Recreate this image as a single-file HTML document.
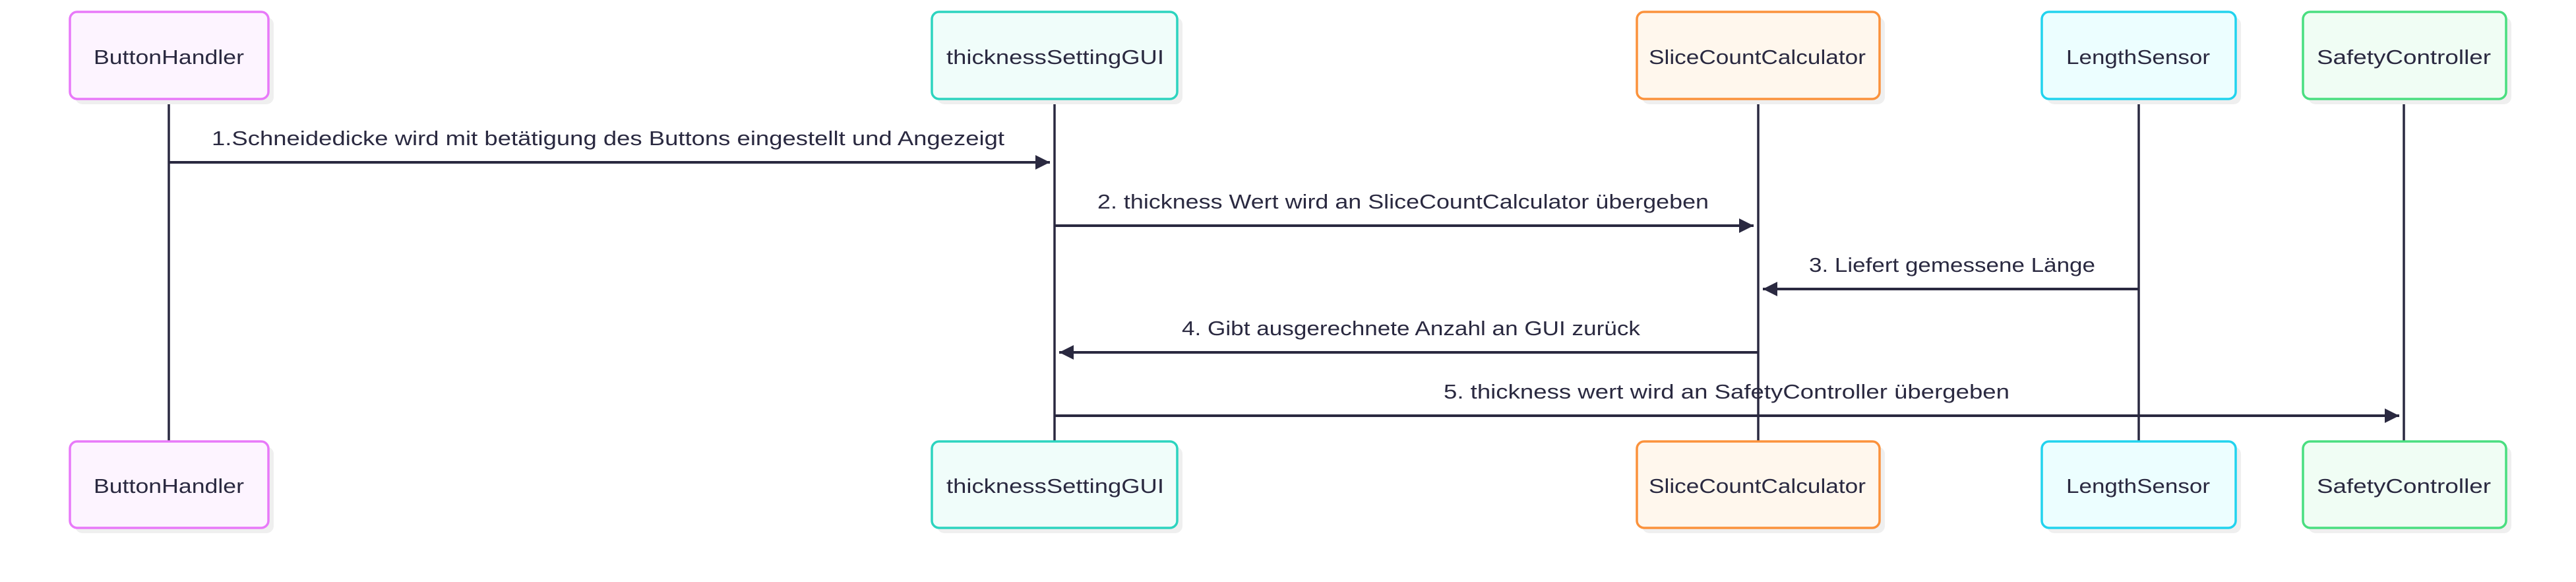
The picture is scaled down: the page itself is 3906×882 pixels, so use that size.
<!DOCTYPE html>
<html><head><meta charset="utf-8"><style>
html,body{margin:0;padding:0;background:#fff;}
svg{display:block;}
text{font-family:"Liberation Sans","DejaVu Sans",sans-serif;font-size:31px;fill:#2a2940;}
</style></head><body>
<svg width="3906" height="882" viewBox="0 0 3906 882" xmlns="http://www.w3.org/2000/svg">
<defs>
<marker id="ah" markerWidth="22" markerHeight="22" refX="22" refY="11" orient="auto" markerUnits="userSpaceOnUse">
<path d="M0,0 L22,11 L0,22 Z" fill="#2a2940"/>
</marker>
</defs>
<!-- lifelines -->
<g stroke="#2a2940" stroke-width="3.5">
<line x1="256" y1="150" x2="256" y2="669"/>
<line x1="1599" y1="150" x2="1599" y2="669"/>
<line x1="2666" y1="150" x2="2666" y2="669"/>
<line x1="3243" y1="150" x2="3243" y2="669"/>
<line x1="3645" y1="150" x2="3645" y2="669"/>
</g>
<!-- boxes -->
<g stroke-width="3.5">
<!-- shadows -->
<g fill="#efefef" stroke="none">
<rect x="114" y="26" width="301" height="132" rx="11"/>
<rect x="1421" y="26" width="372" height="132" rx="11"/>
<rect x="2490" y="26" width="368" height="132" rx="11"/>
<rect x="3104" y="26" width="294" height="132" rx="11"/>
<rect x="3500" y="26" width="308" height="132" rx="11"/>
<rect x="114" y="677" width="301" height="131" rx="11"/>
<rect x="1421" y="677" width="372" height="131" rx="11"/>
<rect x="2490" y="677" width="368" height="131" rx="11"/>
<rect x="3104" y="677" width="294" height="131" rx="11"/>
<rect x="3500" y="677" width="308" height="131" rx="11"/>
</g>
<rect x="106" y="18" width="301" height="132" rx="11" fill="#fdf4ff" stroke="#e879f9"/>
<rect x="1413" y="18" width="372" height="132" rx="11" fill="#f0fdfa" stroke="#2dd4bf"/>
<rect x="2482" y="18" width="368" height="132" rx="11" fill="#fff7ed" stroke="#fb923c"/>
<rect x="3096" y="18" width="294" height="132" rx="11" fill="#ecfeff" stroke="#22d3ee"/>
<rect x="3492" y="18" width="308" height="132" rx="11" fill="#f0fdf4" stroke="#4ade80"/>
<rect x="106" y="669" width="301" height="131" rx="11" fill="#fdf4ff" stroke="#e879f9"/>
<rect x="1413" y="669" width="372" height="131" rx="11" fill="#f0fdfa" stroke="#2dd4bf"/>
<rect x="2482" y="669" width="368" height="131" rx="11" fill="#fff7ed" stroke="#fb923c"/>
<rect x="3096" y="669" width="294" height="131" rx="11" fill="#ecfeff" stroke="#22d3ee"/>
<rect x="3492" y="669" width="308" height="131" rx="11" fill="#f0fdf4" stroke="#4ade80"/>
</g>
<!-- box labels -->
<text x="142" y="97" textLength="228" lengthAdjust="spacingAndGlyphs">ButtonHandler</text>
<text x="1435" y="97" textLength="330" lengthAdjust="spacingAndGlyphs">thicknessSettingGUI</text>
<text x="2500" y="97" textLength="329" lengthAdjust="spacingAndGlyphs">SliceCountCalculator</text>
<text x="3133" y="97" textLength="218" lengthAdjust="spacingAndGlyphs">LengthSensor</text>
<text x="3513" y="97" textLength="264" lengthAdjust="spacingAndGlyphs">SafetyController</text>
<text x="142" y="747" textLength="228" lengthAdjust="spacingAndGlyphs">ButtonHandler</text>
<text x="1435" y="747" textLength="330" lengthAdjust="spacingAndGlyphs">thicknessSettingGUI</text>
<text x="2500" y="747" textLength="329" lengthAdjust="spacingAndGlyphs">SliceCountCalculator</text>
<text x="3133" y="747" textLength="218" lengthAdjust="spacingAndGlyphs">LengthSensor</text>
<text x="3513" y="747" textLength="264" lengthAdjust="spacingAndGlyphs">SafetyController</text>
<!-- messages -->
<g stroke="#2a2940" stroke-width="4" marker-end="url(#ah)">
<line x1="256" y1="246" x2="1592" y2="246"/>
<line x1="1599" y1="342" x2="2659" y2="342"/>
<line x1="3243" y1="438" x2="2673" y2="438"/>
<line x1="2666" y1="534" x2="1606" y2="534"/>
<line x1="1599" y1="630" x2="3638" y2="630"/>
</g>
<text x="321" y="220" textLength="1202" lengthAdjust="spacingAndGlyphs">1.Schneidedicke wird mit betätigung des Buttons eingestellt und Angezeigt</text>
<text x="1664" y="316" textLength="927" lengthAdjust="spacingAndGlyphs">2. thickness Wert wird an SliceCountCalculator übergeben</text>
<text x="2743" y="412" textLength="434" lengthAdjust="spacingAndGlyphs">3. Liefert gemessene Länge</text>
<text x="1792" y="508" textLength="695" lengthAdjust="spacingAndGlyphs">4. Gibt ausgerechnete Anzahl an GUI zurück</text>
<text x="2189" y="604" textLength="858" lengthAdjust="spacingAndGlyphs">5. thickness wert wird an SafetyController übergeben</text>
</svg>
</body></html>
